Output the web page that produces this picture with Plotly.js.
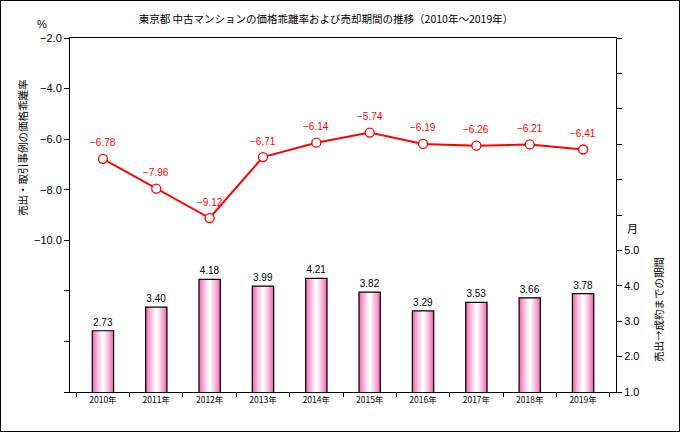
<!DOCTYPE html>
<html>
<head>
<meta charset="utf-8">
<script src="https://cdn.plot.ly/plotly-3.0.1.min.js"></script>
<style>
html,body{margin:0;padding:0;background:#fff;}
#wrap{position:relative;width:681px;height:433px;}
#chart{width:681px;height:433px;}
#frame{position:absolute;left:0;top:0;width:678px;height:430px;border:1px solid #000;pointer-events:none;}
</style>
</head>
<body>
<div id="wrap"><div id="chart"></div><div id="frame"></div></div>
<script>
// ---- data ----
const years = ["2010年","2011年","2012年","2013年","2014年","2015年","2016年","2017年","2018年","2019年"];
const divergence = [-6.78, -7.96, -9.12, -6.71, -6.14, -5.74, -6.19, -6.26, -6.21, -6.41];
const sellPeriod = [2.73, 3.40, 4.18, 3.99, 4.21, 3.82, 3.29, 3.53, 3.66, 3.78];
const leftTickVals = [-2, -4, -6, -8, -10, -12, -14, -16];
const leftTickText = ["−2.0", "−4.0", "−6.0", "−8.0", "−10.0", "", "", ""];
const rightTickVals = [1, 2, 3, 4, 5, 6, 7, 8, 9, 10, 11];
const rightTickText = ["1.0", "2.0", "3.0", "4.0", "5.0", "", "", "", "", "", ""];

// ---- layout constants ----
const W = 681, H = 433;
const M = {l: 70, r: 65, t: 38, b: 41};
const pw = W - M.l - M.r, ph = H - M.t - M.b;
const px = x => (x - M.l) / pw;
const py = y => (H - M.b - y) / ph;

const CJK = '"Noto Sans CJK JP", "Noto Sans", sans-serif';
const NUM = '"Liberation Sans", Arial, sans-serif';

// stepped horizontal gradient for bars (pink edges -> white centre)
const traces = [];
const steps = 9;
const barW = 0.40;
const edge = [240, 100, 176];
for (let k = 0; k < steps; k++) {
  const f = k / (steps - 1);
  const c = edge.map(v => Math.round(v + (255 - v) * Math.pow(f, 0.8)));
  const t = {
    type: 'bar', x: years, y: sellPeriod, yaxis: 'y2',
    width: barW * (1 - k / steps),
    marker: {color: `rgb(${c[0]},${c[1]},${c[2]})`, line: {width: 0}},
    hoverinfo: 'skip', showlegend: false
  };
  if (k === 0) {
    t.text = sellPeriod.map(v => v.toFixed(2));
    t.textposition = 'outside';
    t.textfont = {family: NUM, size: 10, color: '#000'};
    t.cliponaxis = false;
  }
  traces.push(t);
}
// outline on top
traces.push({
  type: 'bar', x: years, y: sellPeriod, yaxis: 'y2', width: barW,
  marker: {color: 'rgba(0,0,0,0)', line: {width: 1.2, color: '#000'}},
  hoverinfo: 'skip', showlegend: false
});

traces.push({
  type: 'scatter', mode: 'lines+markers', x: years, y: divergence, yaxis: 'y',
  line: {color: '#ff0000', width: 2},
  marker: {size: 9, color: '#fff', line: {color: '#ff0000', width: 1.3}},
  cliponaxis: false, showlegend: false
});

const lineLabels = years.map((yr, i) => ({
  text: divergence[i].toFixed(2).replace('-', '−'),
  x: yr, y: divergence[i], xref: 'x', yref: 'y',
  showarrow: false, yshift: 16, xanchor: 'center', yanchor: 'middle',
  font: {family: NUM, size: 10, color: '#ff0000'}
}));

const layout = {
  width: W, height: H,
  margin: M,
  paper_bgcolor: '#fff', plot_bgcolor: '#fff',
  barmode: 'overlay',
  showlegend: false,
  title: {
    text: '東京都 中古マンションの価格乖離率および売却期間の推移（2010年～2019年）',
    font: {family: CJK, size: 10.5, color: '#000'},
    xref: 'container', x: 326 / W, xanchor: 'center',
    yref: 'container', y: 1 - 19 / H, yanchor: 'middle'
  },
  xaxis: {
    type: 'category', showline: true, linecolor: '#000', linewidth: 1, mirror: true,
    ticks: 'outside', ticklen: 4, tickcolor: '#000', tickson: 'boundaries',
    showgrid: false, zeroline: false,
    tickfont: {family: CJK, size: 8.5, color: '#000'}
  },
  yaxis: {
    range: [-16, -2], tickvals: leftTickVals, ticktext: leftTickText,
    showline: true, linecolor: '#000', linewidth: 1,
    ticks: 'outside', ticklen: 5, tickcolor: '#000',
    showgrid: false, zeroline: false,
    tickfont: {family: NUM, size: 11, color: '#000'}
  },
  yaxis2: {
    overlaying: 'y', side: 'right',
    range: [1, 11], tickvals: rightTickVals, ticktext: rightTickText,
    showline: true, linecolor: '#000', linewidth: 1,
    ticks: 'outside', ticklen: 5, tickcolor: '#000',
    showgrid: false, zeroline: false,
    tickfont: {family: NUM, size: 11, color: '#000'}
  },
  annotations: [
    {text: '%', xref: 'paper', yref: 'paper', x: px(42), y: py(24), showarrow: false,
     font: {family: NUM, size: 11, color: '#000'}, xanchor: 'center', yanchor: 'middle'},
    {text: '月', xref: 'paper', yref: 'paper', x: px(633), y: py(228), showarrow: false,
     font: {family: CJK, size: 11, color: '#000'}, xanchor: 'center', yanchor: 'middle'},
    {text: '売出・取引事例の価格乖離率', xref: 'paper', yref: 'paper', x: px(22), y: py(147),
     textangle: -90, showarrow: false,
     font: {family: CJK, size: 10.5, color: '#000'}, xanchor: 'center', yanchor: 'middle'},
    {text: '売出→成約までの期間', xref: 'paper', yref: 'paper', x: px(658), y: py(310),
     textangle: -90, showarrow: false,
     font: {family: CJK, size: 10.5, color: '#000'}, xanchor: 'center', yanchor: 'middle'}
  ].concat(lineLabels)
};

Plotly.newPlot('chart', traces, layout, {displayModeBar: false, staticPlot: true});
</script>
</body>
</html>
